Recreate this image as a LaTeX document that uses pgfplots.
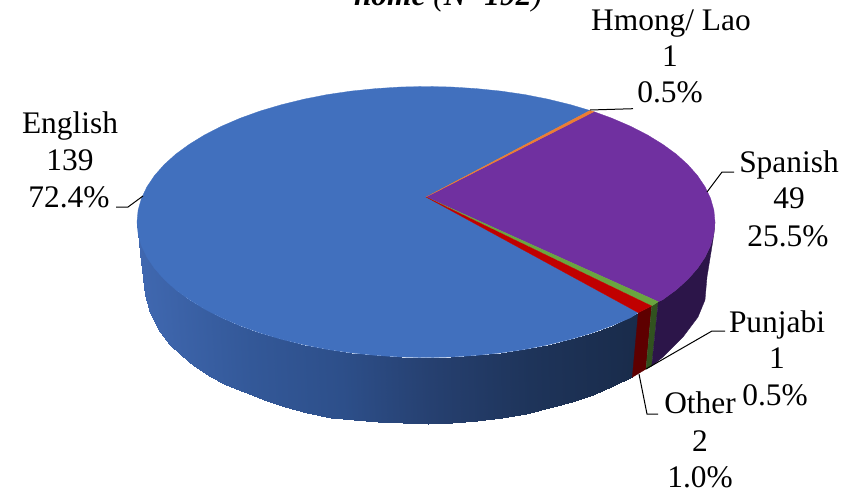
\documentclass[border=0pt]{standalone}
\usepackage{fontspec}
\setmainfont{Liberation Serif}
\usepackage{pgfplots}
\pgfplotsset{compat=1.18}
\definecolor{blueTop}{HTML}{4170BE}
\definecolor{purpleTop}{HTML}{7030A0}
\definecolor{purpleSide}{HTML}{2C1549}
\definecolor{redTop}{HTML}{C00000}
\definecolor{redSide}{HTML}{5E0000}
\definecolor{greenTop}{HTML}{6AA53F}
\definecolor{greenSide}{HTML}{31521F}
\definecolor{orangeTop}{HTML}{ED7D31}
\newcommand{\lab}[3]{\node[anchor=base,inner sep=0pt] at (axis cs:#1,#2) {\fontsize{31.4}{37}\selectfont #3};}
\newcommand{\leader}[1]{\addplot[black,line width=1pt] coordinates {#1};}
\begin{document}
\begin{tikzpicture}
\begin{axis}[scale only axis,width=863pt,height=493pt,xmin=0,xmax=863,ymin=0,ymax=493,y dir=reverse,hide axis,clip=false,
 colormap={side}{rgb255(137)=(64,104,176) rgb255(250)=(51,88,152) rgb255(340)=(45,79,138) rgb255(430)=(38,64,112) rgb255(530)=(30,52,90) rgb255(640)=(25,43,74)}]
% side of the English slice
\addplot[patch,patch type=rectangle,shader=interp,point meta=explicit,point meta min=137,point meta max=640] table[x=x,y=y,meta=m] {
x y m
137 222 137
141.4 245.5 141
145 295 141
140 253 137
141.4 245.5 141
146.9 257.1 147
150 313 147
145 295 141
146.9 257.1 147
154.4 268.3 154
160 332 154
150 313 147
154.4 268.3 154
164.1 279.3 164
170 345 164
160 332 154
164.1 279.3 164
175.7 289.8 176
181 355 176
170 345 164
175.7 289.8 176
189.3 299.7 189
194 366 189
181 355 176
189.3 299.7 189
204.6 309.1 205
209 376 205
194 366 189
204.6 309.1 205
221.6 317.8 222
226 385 222
209 376 205
221.6 317.8 222
240.2 325.8 240
244 392.4 240
226 385 222
240.2 325.8 240
260.2 333 260
264 400 260
244 392.4 240
260.2 333 260
281.5 339.3 282
285 406.6 282
264 400 260
281.5 339.3 282
303.9 344.8 304
307 412.5 304
285 406.6 282
303.9 344.8 304
327.2 349.4 327
331 417.5 327
307 412.5 304
327.2 349.4 327
351.2 352.9 351
354 420 351
331 417.5 327
351.2 352.9 351
375.8 355.4 376
378 422.3 376
354 420 351
375.8 355.4 376
400.8 357 401
403 423.3 401
378 422.3 376
400.8 357 401
426 357.5 426
428 424 426
403 423.3 401
426 357.5 426
451.2 357 451
452 423 451
428 424 426
451.2 357 451
476.2 355.4 476
477 421 476
452 423 451
476.2 355.4 476
500.8 352.9 501
502 418.3 501
477 421 476
500.8 352.9 501
524.8 349.4 525
526 414.2 525
502 418.3 501
524.8 349.4 525
548.1 344.8 548
549 408.3 548
526 414.2 525
548.1 344.8 548
570.5 339.3 570
572 401.5 570
549 408.3 548
570.5 339.3 570
591.8 333 592
593 394.8 592
572 401.5 570
591.8 333 592
611.8 325.8 612
613 386 612
593 394.8 592
611.8 325.8 612
638.3 312.7 638
632.3 377.3 638
613 386 612
};
% sides of the other slices
\addplot[fill=redSide,draw=redSide,line width=0.3pt] coordinates {(638.3,312.7)(651.7,306)(646,369)(632.3,377.3)} -- cycle;
\addplot[fill=greenSide,draw=greenSide,line width=0.3pt] coordinates {(651.7,306)(658.3,301.7)(651.7,366)(646,369)} -- cycle;
\addplot[fill=purpleSide,draw=purpleSide,line width=0.3pt] coordinates {(658.3,301.7)(662.7,299.7)(676.3,289.8)(687.9,279.3)(697.6,268.3)(705.1,257.1)(710.6,245.5)(713.9,233.8)(715,222)(713,240)(707,277)(705,300)(698,317)(683,337)(663,357)(651.7,366)} -- cycle;
% top faces
\addplot[fill=blueTop,draw=blueTop,line width=0.3pt] coordinates {(426,197)(590,110.5)(570.5,104.7)(548.1,99.2)(524.8,94.6)(500.8,91.1)(476.2,88.6)(451.2,87)(426,86.5)(400.8,87)(375.8,88.6)(351.2,91.1)(327.2,94.6)(303.9,99.2)(281.5,104.7)(260.2,111)(240.2,118.2)(221.6,126.2)(204.6,134.9)(189.3,144.3)(175.7,154.2)(164.1,164.7)(154.4,175.7)(146.9,186.9)(141.4,198.5)(138.1,210.2)(137,222)(138.1,233.8)(141.4,245.5)(146.9,257.1)(154.4,268.3)(164.1,279.3)(175.7,289.8)(189.3,299.7)(204.6,309.1)(221.6,317.8)(240.2,325.8)(260.2,333)(281.5,339.3)(303.9,344.8)(327.2,349.4)(351.2,352.9)(375.8,355.4)(400.8,357)(426,357.5)(451.2,357)(476.2,355.4)(500.8,352.9)(524.8,349.4)(548.1,344.8)(570.5,339.3)(591.8,333)(611.8,325.8)(630.4,317.8)(638.3,312.7)} -- cycle;
\addplot[fill=purpleTop,draw=purpleTop,line width=0.3pt] coordinates {(426,197)(594,111.7)(611.8,118.2)(630.4,126.2)(647.4,134.9)(662.7,144.3)(676.3,154.2)(687.9,164.7)(697.6,175.7)(705.1,186.9)(710.6,198.5)(713.9,210.2)(715,222)(713.9,233.8)(710.6,245.5)(705.1,257.1)(697.6,268.3)(687.9,279.3)(676.3,289.8)(662.7,299.7)(658.3,301.7)} -- cycle;
\addplot[fill=orangeTop,draw=orangeTop,line width=0.2pt] coordinates {(426,197)(590,110.5)(594,111.7)} -- cycle;
\addplot[fill=greenTop,draw=greenTop,line width=0.2pt] coordinates {(426,197)(651.7,306)(658.3,301.7)} -- cycle;
\addplot[fill=redTop,draw=redTop,line width=0.2pt] coordinates {(426,197)(638.3,312.7)(651.7,306)} -- cycle;
% leader lines
\leader{(116,207)(128,207)(143,196)}
\leader{(633,108.7)(590,110)}
\leader{(734,172)(722,172)(707,192)}
\leader{(725,331)(712,331)(646,369)}
\leader{(658,414)(647,414)(639,374)}
% labels
\lab{70}{133}{English}
\lab{70}{170}{139}
\lab{69}{207}{72.4\%}
\lab{671}{30}{Hmong/ Lao}
\lab{670}{66}{1}
\lab{670}{102}{0.5\%}
\lab{789}{172}{Spanish}
\lab{789}{208}{49}
\lab{788}{246}{25.5\%}
\lab{777}{332}{Punjabi}
\lab{777}{368}{1}
\lab{775}{405}{0.5\%}
\lab{700}{413}{Other}
\lab{700}{451}{2}
\lab{700}{487}{1.0\%}
\lab{448}{5}{\textbf{\textit{home}} \textit{(\textbf{N=192})}}
\end{axis}
\pgfresetboundingbox
\path[use as bounding box] (0,0) rectangle (863pt,493pt);
\end{tikzpicture}
\end{document}
